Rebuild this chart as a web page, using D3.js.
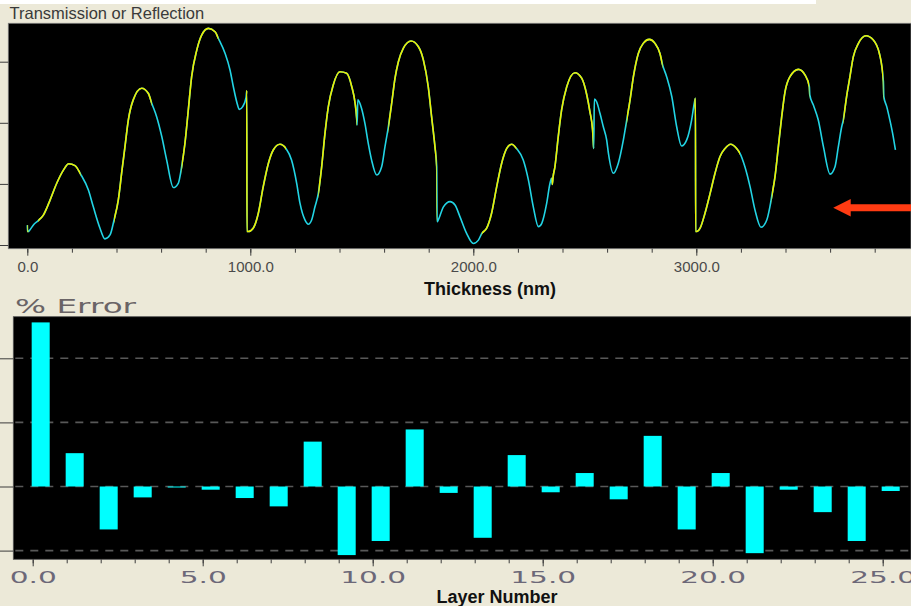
<!DOCTYPE html>
<html>
<head>
<meta charset="utf-8">
<style>
    body { margin: 0; background: #ece9d8; }
    svg { display: block; }
    .axis path.domain { display: none; }
    .axis .tick line { stroke: #3c3c3c; }
    .topLabels text { font: 15px "Liberation Sans", Arial, sans-serif; fill: #4a4a4a; }
    .layerLabels text { font: 16px "DejaVu Sans", sans-serif; fill: #6c6878; }
</style>
</head>
<body>
<script src="https://d3js.org/d3.v7.min.js"></script>
<script>
    var width = 911, height = 606;

    // monitor trace: [thickness nm, signal %], split where the colour switches
    var yellowRuns = [
        [[0, 6.5], [1, 4.4], [5, 4.4]],
        [[49, 8.0], [72, 9.8], [102, 14.7], [132, 20.2], [162, 24.5], [186, 26.6], [214, 26.0], [239, 23.2]],
        [[389, 8.2], [408, 14.7], [423, 23.5], [438, 32.2], [453, 40.9], [475, 47.5], [513, 51.3], [543, 49.6], [558, 46.4]],
        [[692, 25.6], [707, 33.3], [722, 44.2], [737, 55.1], [760, 63.8], [782, 68.7], [812, 70.9], [842, 69.8], [857, 67.6]],
        [[981, 48.3], [984, 50.5], [985, 4.4], [991, 4.4], [1013, 5.5], [1036, 10.4], [1058, 19.1], [1081, 26.7], [1103, 31.1], [1133, 33.0], [1160, 31.6]],
        [[1305, 16.9], [1320, 25.6], [1335, 36.6], [1350, 45.3], [1372, 52.4], [1402, 56.7], [1432, 56.2], [1455, 51.8], [1470, 46.4], [1477, 41.5]],
        [[1619, 38.7], [1634, 46.4], [1649, 54.6], [1664, 60.0], [1686, 64.4], [1721, 66.8], [1754, 64.9], [1776, 60.6], [1798, 51.8], [1813, 42.0], [1828, 32.2], [1836, 25.6]],
        [[2038, 3.8], [2060, 5.5], [2082, 10.4], [2105, 19.1], [2127, 26.7], [2150, 31.6], [2172, 33.0], [2194, 31.6]],
        [[2351, 21.8], [2354, 19.8], [2358, 22.4], [2366, 25.6], [2381, 35.5], [2396, 44.2], [2419, 51.8], [2456, 56.4], [2486, 54.6], [2509, 49.1], [2523, 43.6], [2535, 37.6], [2538, 33.8]],
        [[2688, 40.9], [2703, 47.5], [2718, 55.1], [2740, 62.7], [2762, 66.0], [2789, 67.3], [2815, 66.0], [2837, 62.7], [2849, 58.9]],
        [[2991, 46.4], [2996, 48.0], [2997, 4.4], [3002, 4.4], [3017, 5.5], [3039, 10.4], [3062, 16.9], [3084, 23.5], [3106, 28.9], [3129, 31.6], [3154, 33.0], [3181, 31.6], [3196, 30.0]],
        [[3338, 15.8], [3353, 22.4], [3368, 32.2], [3383, 42.0], [3398, 50.2], [3420, 55.1], [3458, 57.5], [3488, 55.6], [3507, 51.8]],
        [[3659, 40.9], [3674, 48.6], [3689, 55.1], [3704, 61.6], [3727, 66.0], [3761, 68.5], [3794, 67.1], [3821, 62.7], [3839, 53.5]]
    ];
    var cyanRuns = [
        [[5, 4.4], [9, 4.7], [30, 6.8], [49, 8.0]],
        [[239, 23.2], [274, 18.0], [296, 12.5], [326, 5.5], [348, 2.0], [371, 3.3], [389, 8.2]],
        [[558, 46.4], [580, 42.0], [603, 35.5], [625, 27.8], [655, 18.8], [677, 20.2], [692, 25.6]],
        [[857, 67.6], [887, 62.7], [909, 57.3], [924, 51.8], [939, 46.9], [951, 44.4], [966, 45.3], [981, 48.3]],
        [[1160, 31.6], [1185, 27.8], [1208, 20.2], [1223, 13.6], [1245, 8.2], [1260, 6.8], [1275, 8.2], [1290, 12.5], [1305, 16.9]],
        [[1477, 41.5], [1479, 39.3], [1482, 47.5], [1499, 44.7], [1514, 39.8], [1529, 33.3], [1544, 27.8], [1567, 22.9], [1589, 25.6], [1604, 32.2], [1619, 38.7]],
        [[1836, 25.6], [1838, 7.6], [1843, 8.2], [1866, 12.5], [1896, 14.2], [1918, 13.1], [1940, 9.3], [1970, 3.8], [2000, 0.5], [2023, 1.6], [2038, 3.8]],
        [[2194, 31.6], [2224, 27.8], [2247, 21.3], [2269, 12.5], [2292, 6.0], [2307, 7.1], [2329, 13.6], [2344, 20.2], [2351, 21.8]],
        [[2538, 33.8], [2540, 31.6], [2543, 47.8], [2553, 46.9], [2568, 43.1], [2583, 38.7], [2598, 34.4], [2606, 30.0], [2628, 23.5], [2650, 26.7], [2673, 34.4], [2688, 40.9]],
        [[2849, 58.9], [2867, 55.1], [2890, 48.6], [2912, 38.7], [2934, 32.4], [2957, 34.4], [2979, 40.9], [2991, 46.4]],
        [[3196, 30.0], [3218, 25.6], [3241, 19.1], [3263, 11.5], [3290, 5.8], [3316, 8.2], [3330, 12.5], [3338, 15.8]],
        [[3507, 51.8], [3509, 49.1], [3525, 45.8], [3547, 40.9], [3570, 32.2], [3600, 23.2], [3622, 25.6], [3637, 32.2], [3652, 38.7], [3659, 40.9]],
        [[3839, 53.5], [3841, 48.6], [3854, 45.3], [3868, 40.9], [3883, 35.5], [3893, 31.1]]
    ];
    var thickMajor = [0, 1000, 2000, 3000];
    var thickMinor = [0, 200, 400, 600, 800, 1000, 1200, 1400, 1600, 1800, 2000, 2200, 2400, 2600, 2800, 3000, 3200, 3400, 3600, 3800];
    var signalTicks = [0, 20, 40, 60];
    var arrowTip = [3614, 12.2];

    // % error per layer
    var layers = [0, 1, 2, 3, 4, 5, 6, 7, 8, 9, 10, 11, 12, 13, 14, 15, 16, 17, 18, 19, 20, 21, 22, 23, 24, 25];
    var errors = [2.56, 0.52, -0.67, -0.17, -0.01, -0.05, -0.18, -0.31, 0.70, -1.07, -0.85, 0.89, -0.10, -0.80, 0.49, -0.09, 0.21, -0.20, 0.79, -0.67, 0.21, -1.04, -0.05, -0.40, -0.85, -0.07];
    var errorGrid = [-1, 0, 1, 2];
    var layerMajor = [0, 5, 10, 15, 20, 25];

    var svg = d3.select("body").append("svg")
        .attr("width", width)
        .attr("height", height)
        .style("background", "#ece9d8");

    svg.append("rect").attr("x", 0).attr("y", 0).attr("width", 816).attr("height", 4).attr("fill", "#ffffff");

    // ---------- top panel ----------
    var topBox = { x0: 8.3, x1: width, y0: 23.3, y1: 248.7 };
    var xT = d3.scaleLinear().domain([0, 3000]).range([27.3, 696.3]);
    var yT = d3.scaleLinear().domain([0, 60]).range([245, 61.7]);

    svg.append("text")
        .attr("x", 9.5).attr("y", 19)
        .style("font", "16.5px 'Liberation Sans', Arial, sans-serif")
        .attr("fill", "#3a3a3a")
        .text("Transmission or Reflection");

    svg.append("rect")
        .attr("x", topBox.x0).attr("y", topBox.y0)
        .attr("width", topBox.x1 - topBox.x0).attr("height", topBox.y1 - topBox.y0)
        .attr("fill", "#000").attr("stroke", "#7a7a7a").attr("stroke-width", 0.8);

    var defs = svg.append("defs");
    defs.append("clipPath").attr("id", "topClip").append("rect")
        .attr("x", topBox.x0).attr("y", topBox.y0)
        .attr("width", topBox.x1 - topBox.x0).attr("height", topBox.y1 - topBox.y0);

    // yellow parts are picked out of the one continuous trace by their thickness range
    defs.append("clipPath").attr("id", "yellowClip")
        .selectAll("rect").data(yellowRuns).enter().append("rect")
        .attr("x", function (r) { return xT(r[0][0]); })
        .attr("width", function (r) { return xT(r[r.length - 1][0]) - xT(r[0][0]); })
        .attr("y", topBox.y0).attr("height", topBox.y1 - topBox.y0);

    var allPts = d3.merge(yellowRuns.concat(cyanRuns))
        .sort(function (a, b) { return a[0] - b[0]; })
        .filter(function (p, i, arr) { return i === 0 || p[0] !== arr[i - 1][0]; });

    var line = d3.line()
        .x(function (d) { return xT(d[0]); })
        .y(function (d) { return yT(d[1]); })
        .curve(d3.curveMonotoneX);

    var trace = svg.append("g").attr("clip-path", "url(#topClip)");
    trace.append("path").datum(allPts)
        .attr("d", line)
        .attr("fill", "none").attr("stroke", "#22d4e4").attr("stroke-width", 1.6);
    trace.append("g").attr("clip-path", "url(#yellowClip)")
        .append("path").datum(allPts)
        .attr("d", line)
        .attr("fill", "none").attr("stroke", "#eeee00").attr("stroke-width", 1.6);

    // red pointer arrow
    var ax = xT(arrowTip[0]), ay = yT(arrowTip[1]);
    svg.append("path")
        .attr("d", "M" + ax + "," + ay + "L" + (ax + 17.5) + "," + (ay - 8.7) + "L" + (ax + 17.5) + "," + (ay - 3.4)
            + "L" + width + "," + (ay - 3.4) + "L" + width + "," + (ay + 3.4)
            + "L" + (ax + 17.5) + "," + (ay + 3.4) + "L" + (ax + 17.5) + "," + (ay + 8.7) + "Z")
        .attr("fill", "#ff3b12");

    svg.append("g").attr("class", "axis")
        .attr("transform", "translate(" + topBox.x0 + ",0)")
        .call(d3.axisLeft(yT).tickValues(signalTicks).tickSize(topBox.x0).tickFormat(""));

    svg.append("g").attr("class", "axis")
        .attr("transform", "translate(0," + topBox.y1 + ")")
        .call(d3.axisBottom(xT).tickValues(thickMinor).tickSize(4).tickFormat(""));

    svg.append("g").attr("class", "axis topLabels")
        .attr("transform", "translate(0," + topBox.y1 + ")")
        .call(d3.axisBottom(xT).tickValues(thickMajor).tickSize(7).tickPadding(6).tickFormat(d3.format(".1f")));

    svg.append("text")
        .attr("x", 490).attr("y", 295)
        .attr("text-anchor", "middle")
        .style("font", "bold 18px 'Liberation Sans', Arial, sans-serif")
        .attr("fill", "#111")
        .text("Thickness (nm)");

    // ---------- bottom panel ----------
    var bot = { x0: 13.3, x1: width, y0: 316.7, y1: 559.3 };
    var xL = d3.scaleLinear().domain([0, 25]).range([32.7, 882.7]);
    var yE = d3.scaleLinear().domain([-1, 2]).range([550.6, 358.3]);

    svg.append("text")
        .attr("transform", "translate(15,313) scale(1.72,1)")
        .style("font", "19px 'DejaVu Sans', sans-serif")
        .attr("fill", "#6a6466")
        .text("% Error");

    svg.append("rect")
        .attr("x", bot.x0).attr("y", bot.y0)
        .attr("width", bot.x1 - bot.x0).attr("height", bot.y1 - bot.y0)
        .attr("fill", "#000").attr("stroke", "#555").attr("stroke-width", 0.8);

    svg.append("g").selectAll("line").data(errorGrid).enter().append("line")
        .attr("x1", bot.x0 + 2).attr("x2", bot.x1)
        .attr("y1", function (d) { return yE(d); })
        .attr("y2", function (d) { return yE(d); })
        .attr("stroke", "#585858").attr("stroke-width", 1.6)
        .attr("stroke-dasharray", "8,7");

    svg.append("g").selectAll("rect").data(layers).enter().append("rect")
        .attr("x", function (d) { return xL(d - 0.03); })
        .attr("width", xL(0.5) - xL(-0.03))
        .attr("y", function (d, i) { return yE(Math.max(0, errors[i])); })
        .attr("height", function (d, i) { return Math.max(1, Math.abs(yE(errors[i]) - yE(0))); })
        .attr("fill", "#00ffff");

    svg.append("g").attr("class", "axis")
        .attr("transform", "translate(" + bot.x0 + ",0)")
        .call(d3.axisLeft(yE).tickValues(errorGrid).tickSize(bot.x0).tickFormat(""));

    svg.append("g").attr("class", "axis")
        .attr("transform", "translate(0," + bot.y1 + ")")
        .call(d3.axisBottom(xL).tickValues(layers).tickSize(4).tickFormat(""));

    var lx = svg.append("g").attr("class", "axis layerLabels")
        .attr("transform", "translate(0," + bot.y1 + ")")
        .call(d3.axisBottom(xL).tickValues(layerMajor).tickSize(7).tickPadding(5).tickFormat(d3.format(".1f")));
    lx.selectAll("text").attr("transform", "scale(1.85,1)");

    svg.append("text")
        .attr("x", 497).attr("y", 603)
        .attr("text-anchor", "middle")
        .style("font", "bold 18px 'Liberation Sans', Arial, sans-serif")
        .attr("fill", "#111")
        .text("Layer Number");
</script>
</body>
</html>
